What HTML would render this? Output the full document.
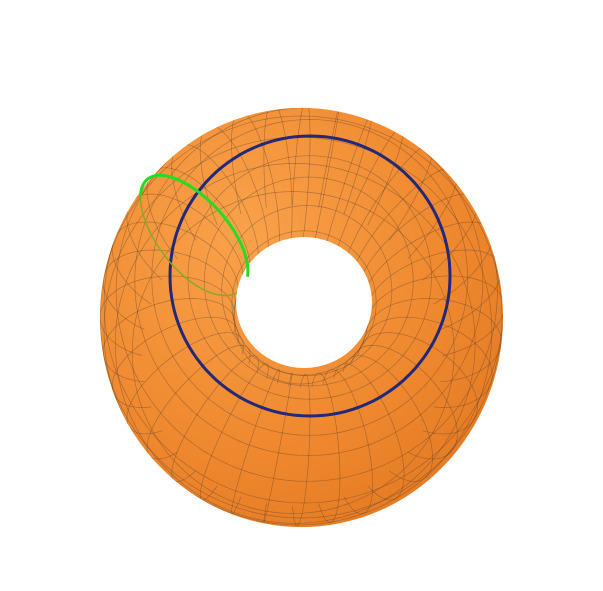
<!DOCTYPE html>
<html><head><meta charset="utf-8"><style>html,body{margin:0;background:#fff}svg{display:block}</style></head>
<body>
<svg id="s" width="603" height="591" viewBox="0 0 603 591">
<defs>
<radialGradient id="g" cx="0.35" cy="0.3" r="0.8">
<stop offset="0" stop-color="#f9a24a"/><stop offset="0.6" stop-color="#f08a30"/><stop offset="1" stop-color="#e47a22"/>
</radialGradient>
<clipPath id="cl"><path id="clipbody" clip-rule="evenodd" d=""/></clipPath>
</defs>
<path id="body" fill="url(#g)" fill-rule="evenodd" d=""/>
<g id="grid" clip-path="url(#cl)"></g>
<path id="blue" fill="none" stroke="#22287a" stroke-width="3"/>
<path id="green" fill="none" stroke="#22dd22" stroke-width="3"/>
</svg>
<script>
const majorR=[1.0];const minorR=[0.5];
const meridianAngles=[];for(let i=0;i<36;i++)meridianAngles.push(i*10);
const parallelAngles=[-60,-40,-20,0,20,40,60,75,90,105,120,140,160,180];
const greenU=[143];const blueV=[90];
const R=majorR[0],r=minorR[0],s=134,cx=301,cy=317,p=0.09,q=82,qx=18;
function P(u,v){u*=Math.PI/180;v*=Math.PI/180;const rr=R+r*Math.cos(v);const x=rr*Math.cos(u),y=rr*Math.sin(u),z=r*Math.sin(v);
const k=1+p*z;return [cx+s*x*k+qx*z,cy-s*y*k-q*z];}
function path(fn,a0,a1,n){let d='';for(let i=0;i<=n;i++){const a=a0+(a1-a0)*i/n;const[x,y]=fn(a);d+=(i?'L':'M')+x.toFixed(1)+' '+y.toFixed(1);}return d;}
function ell(x,y,a,b){return `M${x-a} ${y}A${a} ${b} 0 1 0 ${x+a} ${y}A${a} ${b} 0 1 0 ${x-a} ${y}Z`;}
const bd=ell(301.5,317.5,201.5,209.5)+ell(304,302.5,68,65.5);
document.getElementById('body').setAttribute('d',bd);
document.getElementById('clipbody').setAttribute('d',bd);
const g=document.getElementById('grid');
function add(d,w,c){const e=document.createElementNS('http://www.w3.org/2000/svg','path');e.setAttribute('d',d);e.setAttribute('fill','none');e.setAttribute('stroke',c);e.setAttribute('stroke-width',w);e.setAttribute('opacity','0.4');


g.appendChild(e);}
meridianAngles.forEach(u=>add(path(v=>P(u,v),-70,185,60),0.7,'#4a3a30'));
parallelAngles.forEach(v=>add(path(u=>P(u,v),0,360,120),0.7,'#4a3a30'));
document.getElementById('blue').setAttribute('d',path(u=>P(u,blueV[0]),0,360,120)+'Z');
document.getElementById('green').setAttribute('d',path(v=>P(greenU[0],v),0,180,60));
const back=document.createElementNS('http://www.w3.org/2000/svg','path');
back.setAttribute('d',path(v=>P(greenU[0],v),180,360,40));back.setAttribute('fill','none');back.setAttribute('stroke','#88aa22');back.setAttribute('stroke-width','1.5');
back.setAttribute('clip-path','url(#cl)');


document.getElementById('s').appendChild(back);
</script>
</body></html>
